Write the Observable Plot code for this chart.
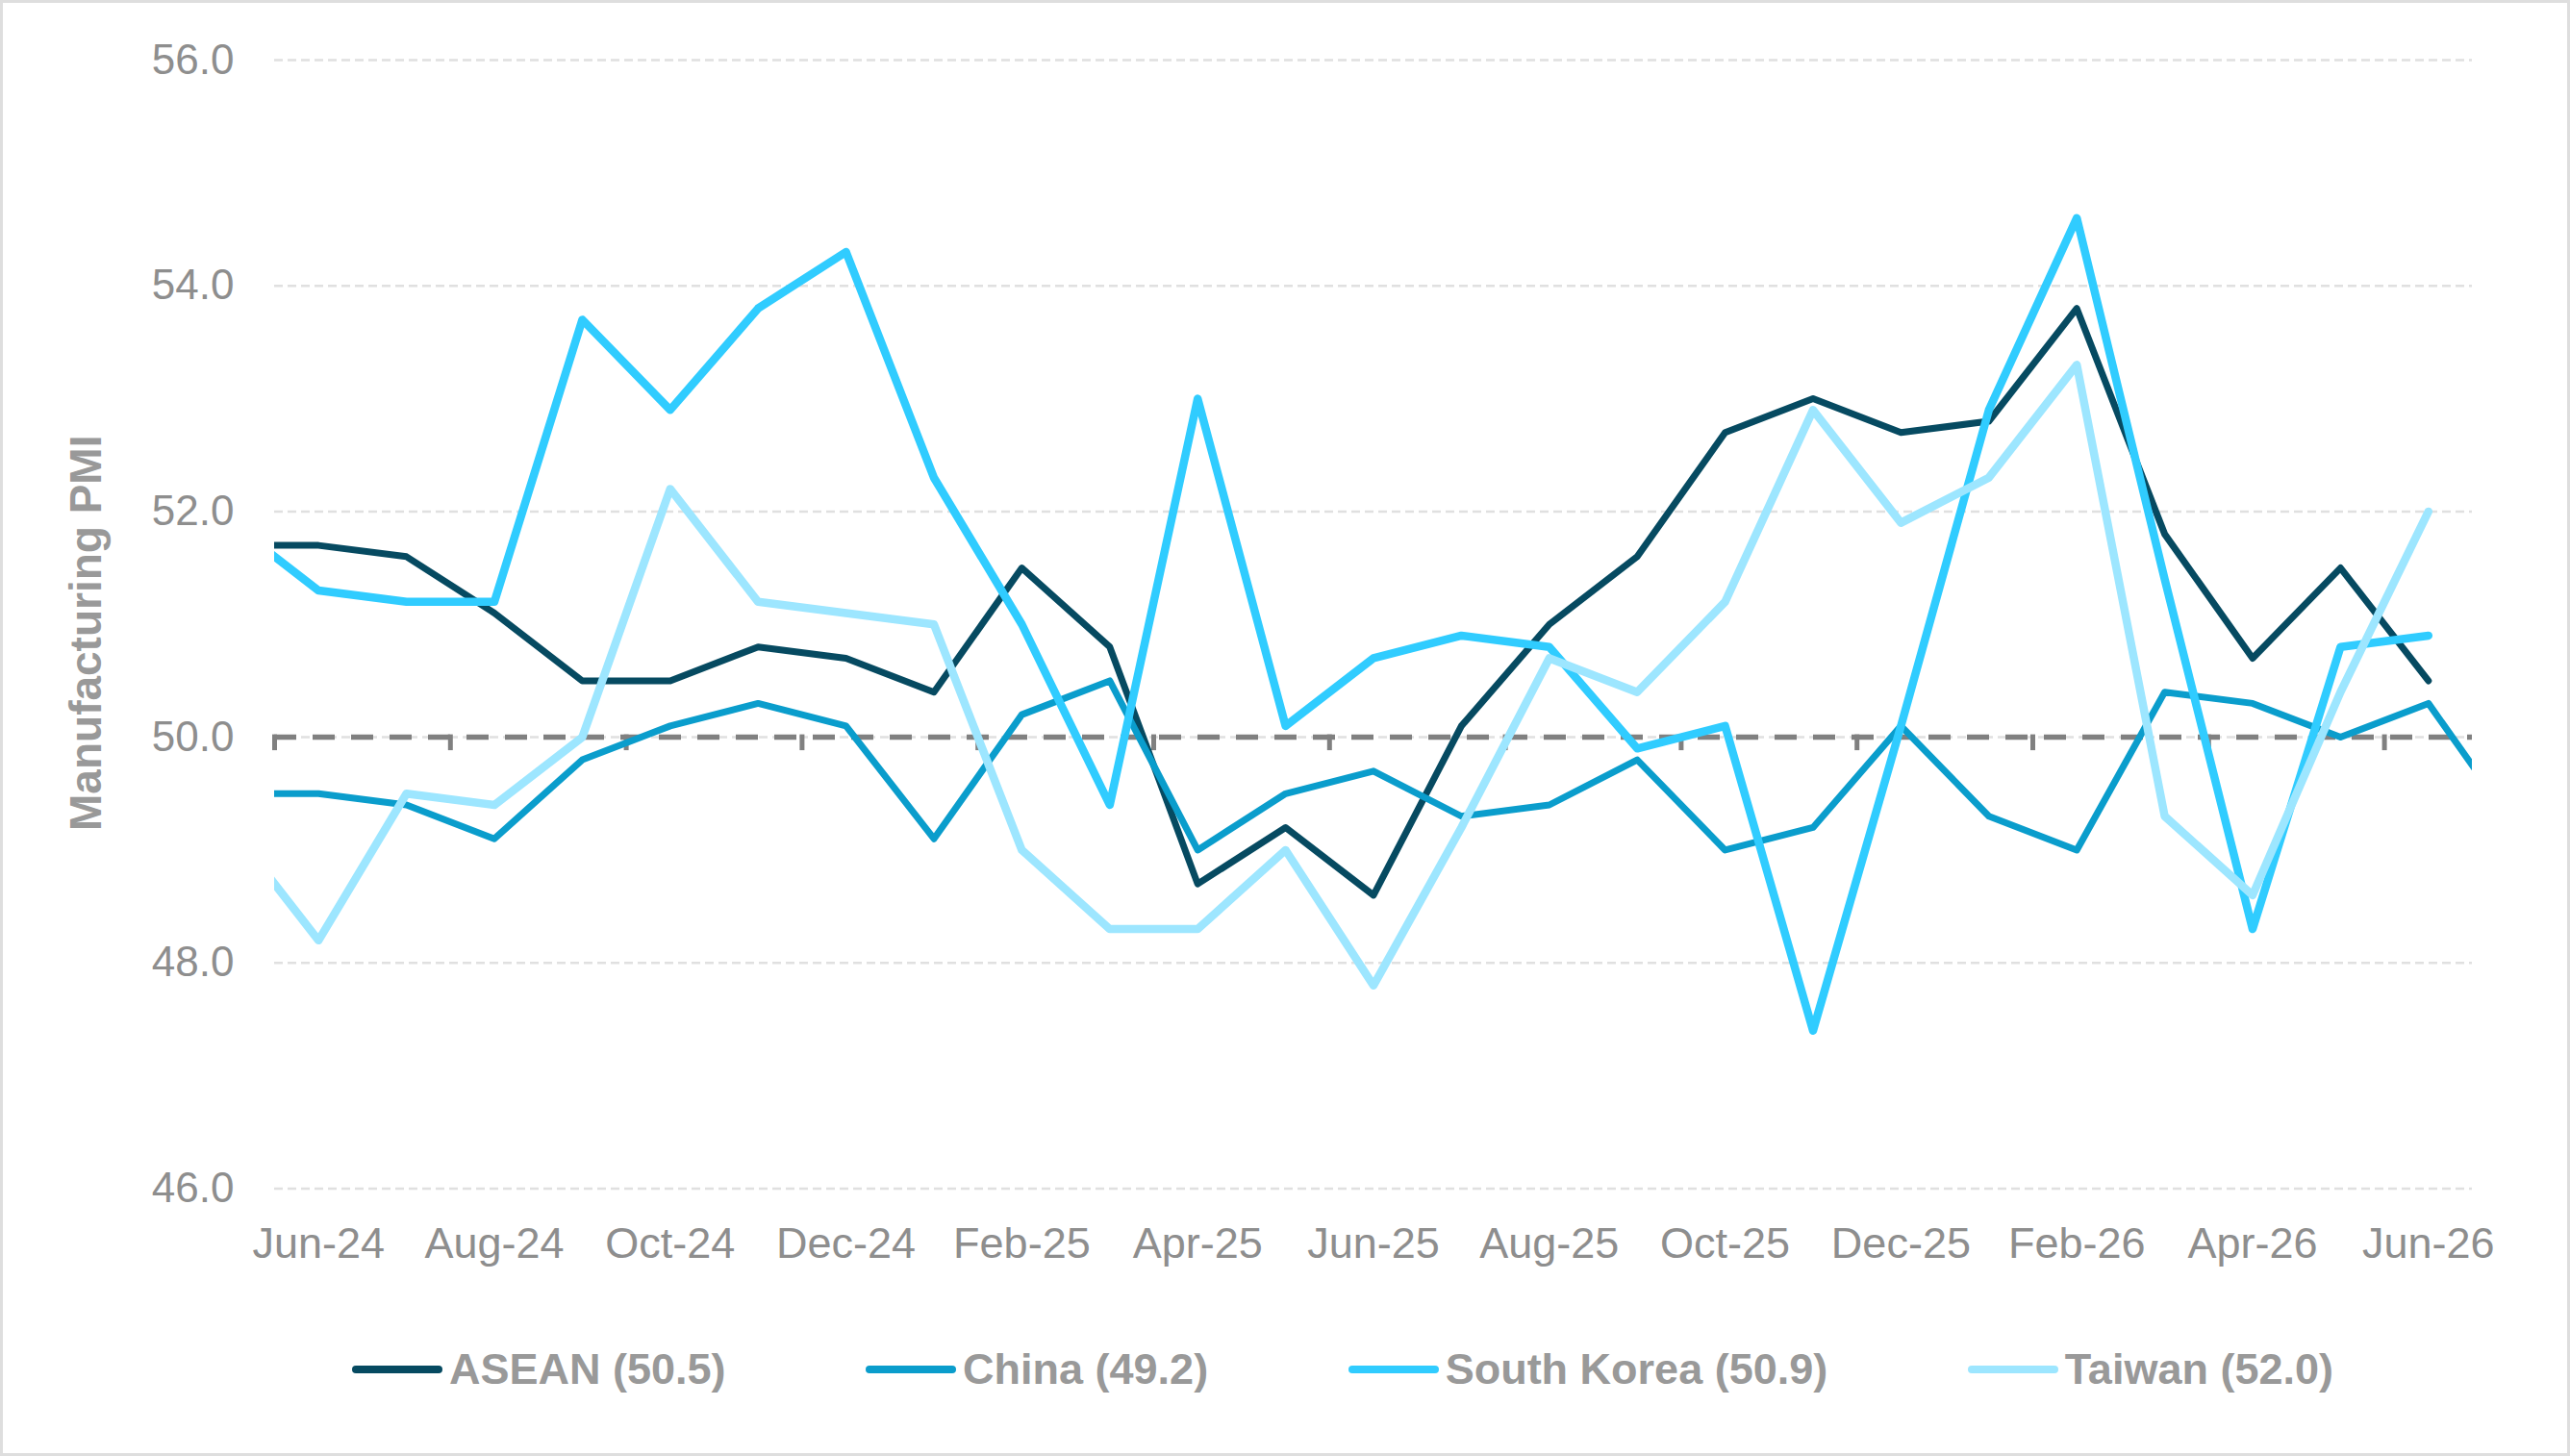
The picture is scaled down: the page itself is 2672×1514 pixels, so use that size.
<!DOCTYPE html>
<html>
<head>
<meta charset="utf-8">
<script src="https://cdn.jsdelivr.net/npm/d3@7"></script>
<script src="https://cdn.jsdelivr.net/npm/@observablehq/plot@0.6"></script>
<style>
  html, body { margin: 0; padding: 0; background: #fff; }
  body { width: 2672px; height: 1514px; position: relative; overflow: hidden;
         font-family: Arial, "Liberation Sans", sans-serif; }
  #chart { position: absolute; left: 0; top: 0; }
  #frame { position: absolute; left: 0; top: 0; width: 2672px; height: 1514px;
           box-sizing: border-box; border: 3px solid #dedede; pointer-events: none; }
  #legend { position: absolute; left: 366px; width: 2060px; top: 1394px; height: 60px;
            display: flex; justify-content: space-between; align-items: center; }
  .item { display: flex; align-items: center; }
  .sw { width: 94px; height: 8px; border-radius: 4px; margin-right: 7px; }
  .lab { font-size: 45px; font-weight: bold; color: #999999; white-space: nowrap; }
</style>
</head>
<body>
<div id="chart"></div>
<div id="legend"></div>
<div id="frame"></div>
<script>
// Months (May-24 and Jul-26 fall just outside the visible range and are clipped)
const months = ["May-24","Jun-24","Jul-24","Aug-24","Sep-24","Oct-24","Nov-24","Dec-24",
  "Jan-25","Feb-25","Mar-25","Apr-25","May-25","Jun-25","Jul-25","Aug-25","Sep-25","Oct-25",
  "Nov-25","Dec-25","Jan-26","Feb-26","Mar-26","Apr-26","May-26","Jun-26","Jul-26"];

const asean = [51.7,51.7,51.6,51.1,50.5,50.5,50.8,50.7,50.4,51.5,50.8,48.7,49.2,48.6,50.1,51.0,51.6,52.7,53.0,52.7,52.8,53.8,51.8,50.7,51.5,50.5,null];
const china = [49.5,49.5,49.4,49.1,49.8,50.1,50.3,50.1,49.1,50.2,50.5,49.0,49.5,49.7,49.3,49.4,49.8,49.0,49.2,50.1,49.3,49.0,50.4,50.3,50.0,50.3,49.2];
const southKorea = [51.9,51.3,51.2,51.2,53.7,52.9,53.8,54.3,52.3,51.0,49.4,53.0,50.1,50.7,50.9,50.8,49.9,50.1,47.4,50.1,52.9,54.6,51.4,48.3,50.8,50.9,null];
const taiwan = [49.2,48.2,49.5,49.4,50.0,52.2,51.2,51.1,51.0,49.0,48.3,48.3,49.0,47.8,49.2,50.7,50.4,51.2,52.9,51.9,52.3,53.3,49.3,48.6,50.4,52.0,null];

const seriesNames = ["ASEAN (50.5)", "China (49.2)", "South Korea (50.9)", "Taiwan (52.0)"];
const seriesValues = [asean, china, southKorea, taiwan];
const seriesColors = ["#064a61", "#0a9dcc", "#30ccff", "#9de6ff"];
const seriesWidths = [7, 7, 8.5, 8.5];

const xTickLabels = ["Jun-24","Aug-24","Oct-24","Dec-24","Feb-25","Apr-25","Jun-25","Aug-25","Oct-25","Dec-25","Feb-26","Apr-26","Jun-26"];
const yTicks = [46, 48, 50, 52, 54, 56];
const threshold = 50;

// month position: Jun-24 = 0
const pos = m => months.indexOf(m) - 1;
const xTicks = xTickLabels.map(pos);
const tickMarks = d3.range(-0.5, 24, 2); // category-boundary tick marks on the 50 line

const rows = [];
seriesValues.forEach((vals, s) => {
  vals.forEach((v, k) => {
    if (v != null) rows.push({series: seriesNames[s], x: pos(months[k]), value: v});
  });
});

const gray = "#8e8e8e";
const marks = [
  Plot.gridY(yTicks, {stroke: "#e0e0e0", strokeOpacity: 1, strokeWidth: 2.5, strokeDasharray: "9,5"}),
  Plot.ruleY([threshold], {stroke: "#808080", strokeWidth: 5.5, strokeDasharray: "23,17"}),
  Plot.ruleX(tickMarks, {x: d => d, y1: threshold, y2: threshold, insetTop: -2.5, insetBottom: -14,
                         stroke: "#808080", strokeWidth: 5}),
  Plot.axisY({ticks: yTicks, tickFormat: d3.format(".1f"), tickSize: 0, tickPadding: 42,
              fontSize: 44, fill: gray, label: null}),
  Plot.axisX({ticks: xTicks, tickFormat: d => xTickLabels[xTicks.indexOf(d)], tickSize: 0,
              tickPadding: 40, fontSize: 45, fill: gray, label: null}),
  Plot.text(["Manufacturing PMI"], {frameAnchor: "left", textAnchor: "middle", dx: -195, dy: 9, rotate: -90,
              fontSize: 46, fontWeight: "bold", fill: "#999999"})
];
seriesNames.forEach((name, s) => {
  marks.push(Plot.line(rows.filter(r => r.series === name), {
    x: "x", y: "value", stroke: seriesColors[s], strokeWidth: seriesWidths[s],
    strokeLinejoin: "round", strokeLinecap: "round", clip: true
  }));
});

const chart = Plot.plot({
  width: 2672,
  height: 1340,
  marginLeft: 285,
  marginRight: 102,
  marginTop: 62,
  marginBottom: 104.5,
  style: {background: "transparent", fontFamily: "Arial, 'Liberation Sans', sans-serif", overflow: "visible"},
  x: {type: "linear", domain: [-0.5, 24.5], axis: null},
  y: {domain: [46, 56], axis: null},
  marks
});
document.getElementById("chart").appendChild(chart);

const legend = document.getElementById("legend");
seriesNames.forEach((name, s) => {
  const item = document.createElement("div");
  item.className = "item";
  const sw = document.createElement("div");
  sw.className = "sw";
  sw.style.background = seriesColors[s];
  const lab = document.createElement("span");
  lab.className = "lab";
  lab.textContent = name;
  item.appendChild(sw);
  item.appendChild(lab);
  legend.appendChild(item);
});
</script>
</body>
</html>
